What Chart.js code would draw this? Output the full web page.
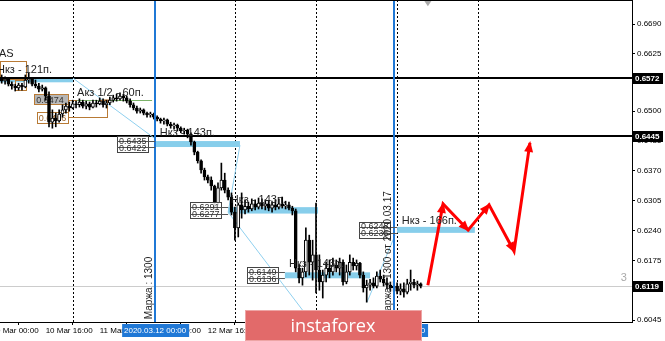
<!DOCTYPE html>
<html>
<head>
<meta charset="utf-8">
<script src="https://cdn.jsdelivr.net/npm/chart.js@4/dist/chart.umd.min.js"></script>
<style>
  html, body { margin: 0; padding: 0; background: #fff; }
  #wrap { width: 665px; height: 341px; position: relative; }
</style>
</head>
<body>
<div id="wrap"><canvas id="chart" width="665" height="341"></canvas></div>
<script>
'use strict';

// H1 bars, 10 Mar 02:00 .. 17 Mar 07:00 (weekend skipped), index = bar number
var opens = [
  0.6568,0.6572,0.6566,0.6570,0.6559,0.6555,0.6551,0.6557,0.6553,0.6568,
  0.6570,0.6559,0.6555,0.6548,0.6551,0.6533,0.6476,0.6485,0.6479,0.6494,
  0.6503,0.6511,0.6507,0.6516,0.6514,0.6520,0.6511,0.6516,0.6509,0.6518,
  0.6516,0.6522,0.6514,0.6518,0.6524,0.6529,0.6527,0.6533,0.6529,0.6522,
  0.6514,0.6507,0.6500,0.6503,0.6496,0.6492,0.6494,0.6487,0.6483,0.6479,
  0.6481,0.6472,0.6468,0.6470,0.6463,0.6457,0.6459,0.6450,0.6433,0.6411,
  0.6392,0.6372,0.6357,0.6350,0.6337,0.6300,0.6333,0.6350,0.6328,0.6313,
  0.6280,0.6246,0.6296,0.6285,0.6293,0.6287,0.6298,0.6291,0.6300,0.6293,
  0.6298,0.6289,0.6296,0.6291,0.6298,0.6293,0.6296,0.6289,0.6283,0.6158,
  0.6137,0.6150,0.6219,0.6171,0.6187,0.6154,0.6128,0.6143,0.6158,0.6150,
  0.6165,0.6158,0.6171,0.6128,0.6150,0.6171,0.6163,0.6169,0.6143,0.6115,
  0.6121,0.6126,0.6119,0.6141,0.6134,0.6126,0.6121,0.6115,0.6119,0.6108,
  0.6113,0.6106,0.6124,0.6128,0.6121,0.6124
];
var highs = [
  0.6577,0.6579,0.6575,0.6572,0.6564,0.6559,0.6561,0.6561,0.6579,0.6583,
  0.6572,0.6568,0.6561,0.6557,0.6553,0.6542,0.6503,0.6496,0.6503,0.6514,
  0.6518,0.6520,0.6524,0.6522,0.6527,0.6524,0.6522,0.6520,0.6524,0.6524,
  0.6529,0.6527,0.6524,0.6531,0.6535,0.6537,0.6540,0.6537,0.6533,0.6527,
  0.6518,0.6511,0.6507,0.6505,0.6498,0.6498,0.6496,0.6490,0.6485,0.6485,
  0.6483,0.6476,0.6474,0.6472,0.6466,0.6463,0.6461,0.6453,0.6435,0.6413,
  0.6394,0.6376,0.6361,0.6357,0.6339,0.6344,0.6387,0.6365,0.6333,0.6322,
  0.6291,0.6300,0.6322,0.6307,0.6302,0.6309,0.6307,0.6311,0.6309,0.6307,
  0.6304,0.6302,0.6307,0.6309,0.6313,0.6304,0.6302,0.6293,0.6287,0.6165,
  0.6158,0.6246,0.6230,0.6219,0.6300,0.6187,0.6154,0.6171,0.6176,0.6180,
  0.6176,0.6180,0.6176,0.6165,0.6187,0.6180,0.6176,0.6171,0.6150,0.6132,
  0.6134,0.6137,0.6150,0.6154,0.6143,0.6137,0.6128,0.6130,0.6126,0.6124,
  0.6126,0.6134,0.6154,0.6134,0.6130,0.6126
];
var lows = [
  0.6559,0.6561,0.6559,0.6555,0.6548,0.6544,0.6546,0.6546,0.6551,0.6561,
  0.6555,0.6551,0.6542,0.6544,0.6524,0.6466,0.6463,0.6466,0.6476,0.6487,
  0.6496,0.6500,0.6505,0.6507,0.6509,0.6507,0.6505,0.6503,0.6507,0.6509,
  0.6514,0.6509,0.6507,0.6514,0.6520,0.6522,0.6524,0.6522,0.6518,0.6509,
  0.6503,0.6496,0.6496,0.6492,0.6487,0.6487,0.6483,0.6479,0.6474,0.6472,
  0.6468,0.6463,0.6461,0.6457,0.6453,0.6450,0.6442,0.6426,0.6405,0.6387,
  0.6365,0.6350,0.6344,0.6328,0.6285,0.6296,0.6328,0.6322,0.6307,0.6274,
  0.6219,0.6226,0.6267,0.6276,0.6280,0.6283,0.6285,0.6287,0.6287,0.6285,
  0.6283,0.6280,0.6285,0.6287,0.6289,0.6287,0.6285,0.6274,0.6150,0.6126,
  0.6121,0.6139,0.6143,0.6132,0.6104,0.6110,0.6093,0.6128,0.6137,0.6143,
  0.6150,0.6143,0.6121,0.6124,0.6143,0.6154,0.6154,0.6137,0.6106,0.6084,
  0.6110,0.6115,0.6115,0.6128,0.6119,0.6113,0.6108,0.6108,0.6102,0.6100,
  0.6095,0.6102,0.6110,0.6115,0.6110,0.6115
];
var closes = [
  0.6572,0.6566,0.6570,0.6559,0.6555,0.6551,0.6557,0.6553,0.6568,0.6570,
  0.6559,0.6555,0.6548,0.6551,0.6533,0.6476,0.6485,0.6479,0.6494,0.6503,
  0.6511,0.6507,0.6516,0.6514,0.6520,0.6511,0.6516,0.6509,0.6518,0.6516,
  0.6522,0.6514,0.6518,0.6524,0.6529,0.6527,0.6533,0.6529,0.6522,0.6514,
  0.6507,0.6500,0.6503,0.6496,0.6492,0.6494,0.6487,0.6483,0.6479,0.6481,
  0.6472,0.6468,0.6470,0.6463,0.6457,0.6459,0.6450,0.6433,0.6411,0.6392,
  0.6372,0.6357,0.6350,0.6337,0.6300,0.6333,0.6350,0.6328,0.6313,0.6280,
  0.6246,0.6296,0.6285,0.6293,0.6287,0.6298,0.6291,0.6300,0.6293,0.6298,
  0.6289,0.6296,0.6291,0.6298,0.6293,0.6296,0.6289,0.6283,0.6158,0.6137,
  0.6150,0.6219,0.6171,0.6187,0.6154,0.6128,0.6143,0.6158,0.6150,0.6165,
  0.6158,0.6171,0.6128,0.6150,0.6171,0.6163,0.6169,0.6143,0.6115,0.6121,
  0.6126,0.6119,0.6141,0.6134,0.6126,0.6121,0.6115,0.6119,0.6108,0.6113,
  0.6106,0.6124,0.6128,0.6121,0.6124,0.6119
];

// axis ticks
var timeTicks = [-2, 14, 30, 46, 62, 78, 94, 110];
var timeLabels = ['10 Mar 00:00', '10 Mar 16:00', '11 Mar 08:00', '12 Mar 00:00',
                  '12 Mar 16:00', '13 Mar 08:00', '16 Mar 00:00', '16 Mar 16:00'];
var priceTicks = [0.6690, 0.6625, 0.6565, 0.6500, 0.6435, 0.6370, 0.6305, 0.6240, 0.6175, 0.6110, 0.6045];
var daySeps = [22, 46, 70, 94, 118, 142];

// horizontal levels and current bid
var levels = [0.6572, 0.6445];
var bid = 0.6119;

// red forecast path
var fcX = [127.1, 131.6, 139.0, 145.2, 152.6, 157.3];
var fcY = [0.6121, 0.6298, 0.6241, 0.6296, 0.6195, 0.6431];

// thin light-blue swing lines
var swingX = [[22.1, 46.4], [71.5, 68.0], [68.0, 90.4], [109.1, 117.4]];
var swingY = [[0.6572, 0.6440], [0.6426, 0.6280], [0.6280, 0.6063], [0.6084, 0.6230]];

// blue target zones
var zoneFrom = [-1, 46.4, 68.0, 84.8, 118.0];
var zoneTo = [22.1, 71.5, 94.6, 110.0, 141.0];
var zoneHi = [0.6574, 0.6435, 0.6291, 0.6149, 0.6248];
var zoneLo = [0.6563, 0.6422, 0.6277, 0.6136, 0.6235];

// notes
var noteText = ['AS', 'Нкз - 121п.', 'Акз 1/2 - 60п.', 'Нкз - 143п.', 'Нкз - 143п.', 'Нкз - 143п.', 'Нкз - 166п.'];
var noteX = [0.2, -0.4, 23.3, 47.8, 68.8, 86.0, 119.4];
var noteY = [0.6618, 0.6583, 0.6533, 0.6446, 0.6300, 0.6161, 0.6254];

// brown boxes on the left
var boxFrom = [0.5, 4.9, 10.6, 11.4, 20.6];
var boxTo = [8.2, 8.2, 20.6, 20.6, 32.2];
var boxHi = [0.6609, 0.6568, 0.6537, 0.6498, 0.6524];
var boxLo = [0.6570, 0.6546, 0.6516, 0.6474, 0.6487];
var boxText = ['', '', '0.6474', '0.6466', ''];

// vertical markers
var markX = [46.4, 117.1];
var markDate = ['2020.03.12 00:00', '2020.03.17 00:00'];
var markText = ['Маржа : 1300', 'Маржа : 1300 от 2020.03.17'];

Chart.defaults.font.family = '"Liberation Sans", Arial, sans-serif';
Chart.defaults.color = '#000';

var wickData = lows.map(function (l, i) { return { x: i, y: [l, highs[i]] }; });
var bodyData = opens.map(function (o, i) { return { x: i, y: [Math.min(o, closes[i]), Math.max(o, closes[i])] }; });

var datasets = [
  { type: 'line', data: fcX.map(function (v, i) { return { x: v, y: fcY[i] }; }),
    borderColor: '#ff0000', borderWidth: 3, pointRadius: 0, order: 0 },
  { type: 'bar', data: bodyData, grouped: false, barThickness: 3, minBarLength: 1,
    backgroundColor: function (c) { var i = c.dataIndex; return closes[i] >= opens[i] ? '#ffffff' : '#000000'; },
    borderColor: '#000', borderWidth: 1, borderSkipped: false, order: 1 },
  { type: 'bar', data: wickData, grouped: false, barThickness: 1, backgroundColor: '#000', order: 2 }
];
swingX.forEach(function (sx, k) {
  datasets.push({ type: 'line', data: [{ x: sx[0], y: swingY[k][0] }, { x: sx[1], y: swingY[k][1] }],
    borderColor: '#8fd0ef', borderWidth: 1, pointRadius: 0, order: 3 });
});

function hLine(c, a, yy, color, w) {
  c.strokeStyle = color; c.lineWidth = w;
  c.beginPath(); c.moveTo(a.left, yy); c.lineTo(a.right, yy); c.stroke();
}

var decor = {
  id: 'decor',
  beforeDatasetsDraw: function (chart) {
    var c = chart.ctx, a = chart.chartArea, xs = chart.scales.x, ys = chart.scales.y;
    c.save();
    c.beginPath(); c.rect(a.left, a.top, a.right - a.left, a.bottom - a.top); c.clip();

    // day separators
    c.strokeStyle = '#000'; c.lineWidth = 1; c.setLineDash([2, 2]);
    daySeps.forEach(function (d) {
      var px = Math.round(xs.getPixelForValue(d)) + 0.5;
      c.beginPath(); c.moveTo(px, a.top); c.lineTo(px, a.bottom); c.stroke();
    });
    c.setLineDash([]);

    // zones
    c.fillStyle = '#87ceeb';
    zoneFrom.forEach(function (z, k) {
      var x0 = xs.getPixelForValue(z), x1 = xs.getPixelForValue(zoneTo[k]);
      var y0 = ys.getPixelForValue(zoneHi[k]), y1 = ys.getPixelForValue(zoneLo[k]);
      c.fillRect(x0, y0, x1 - x0, y1 - y0);
    });

    // brown boxes
    boxFrom.forEach(function (b, k) {
      var x0 = xs.getPixelForValue(b), x1 = xs.getPixelForValue(boxTo[k]);
      var y0 = ys.getPixelForValue(boxHi[k]), y1 = ys.getPixelForValue(boxLo[k]);
      if (k === 2) { c.fillStyle = '#b5b5b5'; c.fillRect(x0, y0, x1 - x0, y1 - y0); }
      c.strokeStyle = '#b87a35'; c.lineWidth = 1;
      c.strokeRect(Math.round(x0) + 0.5, Math.round(y0) + 0.5, Math.round(x1 - x0), Math.round(y1 - y0));
      if (boxText[k]) {
        c.fillStyle = k === 2 ? '#333' : '#a0662a';
        c.font = '9px "Liberation Sans"'; c.textBaseline = 'middle'; c.textAlign = 'left';
        c.fillText(boxText[k], x0 + 2, (y0 + y1) / 2 + 1);
      }
    });

    // green and orange reference lines
    var gy = Math.round(ys.getPixelForValue(0.6524)) + 0.5;
    c.strokeStyle = '#7cb36a'; c.lineWidth = 1;
    c.beginPath(); c.moveTo(xs.getPixelForValue(23.3), gy); c.lineTo(xs.getPixelForValue(45.5), gy); c.stroke();
    c.strokeStyle = '#b8702a'; c.lineWidth = 2;
    c.beginPath(); c.moveTo(xs.getPixelForValue(30), gy); c.lineTo(xs.getPixelForValue(33), gy); c.stroke();

    // levels
    levels.forEach(function (v) { hLine(c, a, Math.round(ys.getPixelForValue(v)), '#000', 2); });
    hLine(c, a, Math.round(ys.getPixelForValue(bid)) + 0.5, '#cccccc', 1);
    c.restore();
  },
  afterDatasetsDraw: function (chart) {
    var c = chart.ctx, a = chart.chartArea, xs = chart.scales.x, ys = chart.scales.y;
    c.save();
    c.beginPath(); c.rect(a.left, a.top, a.right - a.left, a.bottom - a.top); c.clip();

    // arrow heads on the forecast
    c.fillStyle = '#ff0000';
    for (var k = 1; k < fcX.length; k++) {
      var x0 = xs.getPixelForValue(fcX[k - 1]), y0 = ys.getPixelForValue(fcY[k - 1]);
      var x1 = xs.getPixelForValue(fcX[k]), y1 = ys.getPixelForValue(fcY[k]);
      var ang = Math.atan2(y1 - y0, x1 - x0);
      c.save(); c.translate(x1, y1); c.rotate(ang);
      c.beginPath(); c.moveTo(2, 0); c.lineTo(-9, -4.5); c.lineTo(-9, 4.5); c.closePath(); c.fill();
      c.restore();
    }

    // blue markers
    c.strokeStyle = '#1f78d6'; c.lineWidth = 2;
    markX.forEach(function (m) {
      var px = Math.round(xs.getPixelForValue(m));
      c.beginPath(); c.moveTo(px, a.top); c.lineTo(px, a.bottom); c.stroke();
    });

    // zone price boxes
    c.font = '9px "Liberation Sans"'; c.textAlign = 'left'; c.textBaseline = 'middle';
    for (var z = 1; z < zoneFrom.length; z++) {
      var zx = xs.getPixelForValue(zoneFrom[z]);
      var yh = ys.getPixelForValue(zoneHi[z]), yl = ys.getPixelForValue(zoneLo[z]);
      var bx = Math.round(zx - 38), bw = 31, by = Math.round(yh - 5), bh = Math.round(yl - yh + 10);
      c.fillStyle = 'rgba(255,255,255,0.85)'; c.fillRect(bx, by, bw, bh);
      c.strokeStyle = '#444'; c.lineWidth = 1; c.strokeRect(bx + 0.5, by + 0.5, bw, bh);
      c.strokeStyle = '#555';
      c.beginPath(); c.moveTo(bx, Math.round(yh) + 0.5); c.lineTo(zx, Math.round(yh) + 0.5);
      c.moveTo(bx, Math.round(yl) + 0.5); c.lineTo(zx, Math.round(yl) + 0.5); c.stroke();
      c.fillStyle = '#333';
      c.fillText(zoneHi[z].toFixed(4), bx + 2, yh);
      c.fillText(zoneLo[z].toFixed(4), bx + 2, yl + 1);
    }

    // notes
    c.font = '11px "Liberation Sans"'; c.textBaseline = 'alphabetic'; c.fillStyle = '#222';
    noteText.forEach(function (t, k) {
      c.fillText(t, xs.getPixelForValue(noteX[k]), ys.getPixelForValue(noteY[k]));
    });

    // marker captions (vertical)
    c.font = '10px "Liberation Sans"'; c.fillStyle = '#222'; c.textBaseline = 'middle';
    markText.forEach(function (t, k) {
      c.save();
      c.translate(xs.getPixelForValue(markX[k]) - 6, ys.getPixelForValue(0.6047));
      c.rotate(-Math.PI / 2); c.fillText(t, 0, 0); c.restore();
    });

    // small grey marks
    c.fillStyle = '#aaa'; c.font = '11px "Liberation Sans"'; c.textBaseline = 'alphabetic';
    c.fillText('3', xs.getPixelForValue(184.2), ys.getPixelForValue(0.6130));
    var tx = xs.getPixelForValue(127.1), ty = ys.getPixelForValue(0.6742);
    c.beginPath(); c.moveTo(tx - 4, ty); c.lineTo(tx + 4, ty); c.lineTo(tx, ty + 6); c.closePath(); c.fill();

    // top frame
    c.strokeStyle = '#000'; c.lineWidth = 1;
    c.beginPath(); c.moveTo(a.left, a.top + 0.5); c.lineTo(a.right, a.top + 0.5); c.stroke();
    c.restore();
  },
  afterDraw: function (chart) {
    var c = chart.ctx, a = chart.chartArea, xs = chart.scales.x, ys = chart.scales.y;
    c.save();
    // price boxes on the axis
    c.font = 'bold 8px "Liberation Sans"'; c.textAlign = 'left'; c.textBaseline = 'middle';
    levels.concat([bid]).forEach(function (v) {
      var yy = Math.round(ys.getPixelForValue(v));
      c.fillStyle = '#000'; c.fillRect(a.right + 1, yy - 5, 30, 11);
      c.fillStyle = '#fff'; c.fillText(v.toFixed(4), a.right + 3, yy + 0.5);
    });
    // highlighted dates of the markers
    c.font = '8px "Liberation Sans"'; c.textAlign = 'center';
    markX.forEach(function (m, k) {
      var px = xs.getPixelForValue(m);
      c.fillStyle = '#1f78d6'; c.fillRect(px - 33, a.bottom + 2, 67, 13);
      c.fillStyle = '#fff'; c.fillText(markDate[k], px, a.bottom + 9);
    });
    // watermark
    c.fillStyle = '#e26a6a'; c.fillRect(245, 310, 177, 31);
    c.strokeStyle = 'rgba(255,255,255,0.4)'; c.strokeRect(245.5, 310.5, 176, 30);
    var fs = 22;
    c.font = fs + 'px "Open Sans"';
    fs = fs * 85 / c.measureText('instaforex').width;
    c.font = fs + 'px "Open Sans"';
    c.fillStyle = '#fff'; c.textAlign = 'center'; c.textBaseline = 'alphabetic';
    c.fillText('instaforex', 333, 332);
    c.restore();
  }
};

var ctx = document.getElementById('chart').getContext('2d');
var chart = new Chart(ctx, {
  type: 'bar',
  data: { datasets: datasets },
  options: {
    responsive: false,
    animation: false,
    layout: { padding: 0 },
    plugins: { legend: { display: false }, tooltip: { enabled: false } },
    events: [],
    scales: {
      x: {
        type: 'linear', min: 0.5, max: 187.5, offset: false,
        afterFit: function (s) { s.height = 19; s.paddingLeft = 0; s.paddingRight = 0; },
        afterBuildTicks: function (s) { s.ticks = timeTicks.map(function (v) { return { value: v }; }); },
        grid: { drawOnChartArea: false, tickLength: 3, color: '#000' },
        border: { display: true, color: '#000' },
        ticks: {
          autoSkip: false, maxRotation: 0, align: 'start', padding: 1,
          font: { size: 8 }, color: '#000',
          callback: function (v) { return timeLabels[timeTicks.indexOf(v)]; }
        }
      },
      y: {
        type: 'linear', position: 'right', min: 0.60408, max: 0.67423,
        afterFit: function (s) { s.width = 33; s.paddingTop = 0; s.paddingBottom = 0; },
        afterBuildTicks: function (s) { s.ticks = priceTicks.map(function (v) { return { value: v }; }); },
        grid: { drawOnChartArea: false, tickLength: 3, color: '#000' },
        border: { display: true, color: '#000' },
        ticks: {
          padding: 2, font: { size: 8 }, color: '#000',
          callback: function (v) { return v.toFixed(4); }
        }
      }
    }
  },
  plugins: [decor]
});
</script>
</body>
</html>
